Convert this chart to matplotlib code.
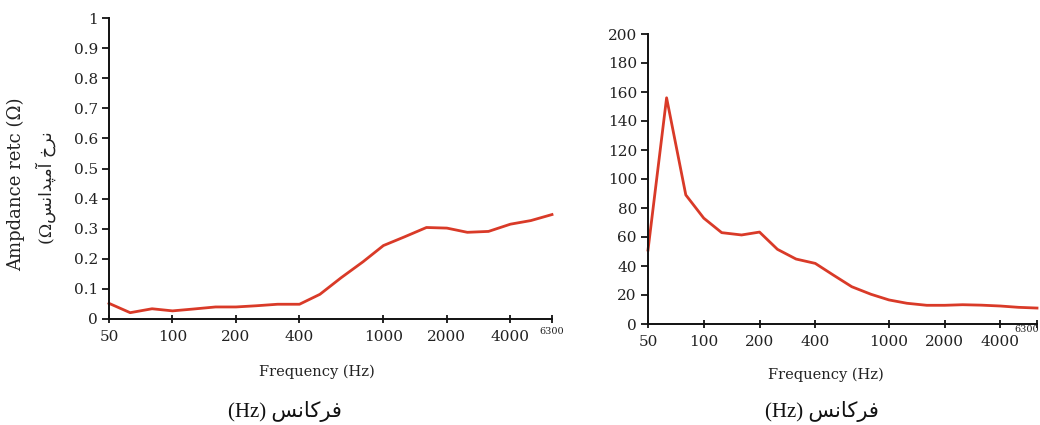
import matplotlib
matplotlib.use("Agg")
import matplotlib.pyplot as plt
import matplotlib.transforms as mtransforms

# ---------- Data (1/3-octave bands) ----------
freqs = [50, 63, 80, 100, 125, 160, 200, 250, 315, 400, 500, 630,
         800, 1000, 1250, 1600, 2000, 2500, 3150, 4000, 5000, 6300]

ratio_left = [0.052, 0.021, 0.034, 0.027, 0.033, 0.040, 0.040, 0.044, 0.049, 0.049, 0.082,
              0.137, 0.190, 0.244, 0.272, 0.304, 0.302, 0.288, 0.291, 0.315, 0.327, 0.347]

ratio_right = [51, 156, 89, 73, 63, 61.4, 63.4, 51.5, 44.8, 41.8, 33.8,
               25.7, 20.5, 16.6, 14.3, 12.9, 12.9, 13.3, 13.0, 12.4, 11.5, 11.0]

xticks = [50, 100, 200, 400, 1000, 2000, 4000]
xtick_labels = ["50", "100", "200", "400", "1000", "2000", "4000"]
yticks_left = [0, 0.1, 0.2, 0.3, 0.4, 0.5, 0.6, 0.7, 0.8, 0.9, 1]
ytick_labels_left = ["0", "0.1", "0.2", "0.3", "0.4", "0.5", "0.6", "0.7", "0.8", "0.9", "1"]
yticks_right = list(range(0, 201, 20))

xlabel_en = "Frequency (Hz)"
# Persian text written in visual order with presentation forms (no shaping in matplotlib)
xlabel_fa = "(Hz) \uFEB2\uFEE7\uFE8E\uFB90\uFEAE\uFED3"
ylabel_en = "Ampdance retc (\u03A9)"
ylabel_fa = "(\u03A9\uFEB2\uFEE7\uFE8D\uFEAA\uFB59\uFEE3\uFE81 \uFEA5\uFEAE\uFEE7"

LINE = "#d93a28"
TXT = "#222222"
SERIF = "DejaVu Serif"

fig = plt.figure(figsize=(10.4, 4.25), dpi=100)
ax1 = fig.add_axes([109 / 1040, 1 - 319 / 425, 443 / 1040, 301 / 425])
ax2 = fig.add_axes([648 / 1040, 1 - 324 / 425, 389 / 1040, 290 / 425])


def style_axis(ax, yticks, ylabels, ymax):
    ax.set_xscale("log")
    ax.set_xlim(50, 6300)
    ax.set_ylim(0, ymax)
    for side in ("top", "right"):
        ax.spines[side].set_visible(False)
    for side in ("left", "bottom"):
        ax.spines[side].set_linewidth(1.4)
        ax.spines[side].set_color("#111111")
    ax.set_xticks(xticks + [6300])
    ax.set_xticklabels(xtick_labels + [""])
    ax.minorticks_off()
    ax.set_yticks(yticks)
    ax.set_yticklabels(ylabels)
    ax.tick_params(axis="x", direction="inout", length=6, width=1.2, pad=5,
                   labelsize=11, labelcolor=TXT)
    ax.tick_params(axis="y", direction="out", length=5, width=1.2, pad=3,
                   labelsize=11, labelcolor=TXT)
    for lab in ax.get_xticklabels() + ax.get_yticklabels():
        lab.set_fontfamily(SERIF)
    trans = mtransforms.blended_transform_factory(ax.transData, ax.transAxes)
    return trans


t1 = style_axis(ax1, yticks_left, ytick_labels_left, 1)
t2 = style_axis(ax2, yticks_right, [str(v) for v in yticks_right], 200)

ax1.plot(freqs, ratio_left, color=LINE, lw=2, solid_joinstyle="round", clip_on=False)
ax2.plot(freqs, ratio_right, color=LINE, lw=2, solid_joinstyle="round", clip_on=False)

# small "6300" end labels
ax1.text(6300, -0.04, "6300", transform=t1, ha="center", va="center",
         fontsize=7, family=SERIF, color=TXT)
fig.text(1039 / 1040, 1 - 329 / 425, "6300", ha="right", va="center",
         fontsize=7, family=SERIF, color=TXT)

# axis titles
fig.text(317 / 1040, 1 - 372 / 425, xlabel_en, ha="center", va="center",
         fontsize=10.5, family=SERIF, color=TXT)
fig.text(826 / 1040, 1 - 375 / 425, xlabel_en, ha="center", va="center",
         fontsize=10.5, family=SERIF, color=TXT)
fig.text(285 / 1040, 1 - 412 / 425, xlabel_fa, ha="center", va="center",
         fontsize=15, family=["Liberation Serif", "DejaVu Sans"], color="#111111")
fig.text(822 / 1040, 1 - 412 / 425, xlabel_fa, ha="center", va="center",
         fontsize=15, family=["Liberation Serif", "DejaVu Sans"], color="#111111")

fig.text(16 / 1040, 1 - 184 / 425, ylabel_en, rotation=90, ha="center", va="center",
         fontsize=13, family=SERIF, color=TXT)
fig.text(46 / 1040, 1 - 188 / 425, ylabel_fa, rotation=90, ha="center", va="center",
         fontsize=12.5, family=["DejaVu Serif", "DejaVu Sans"], color=TXT)

fig.savefig("out.png", dpi=100)
